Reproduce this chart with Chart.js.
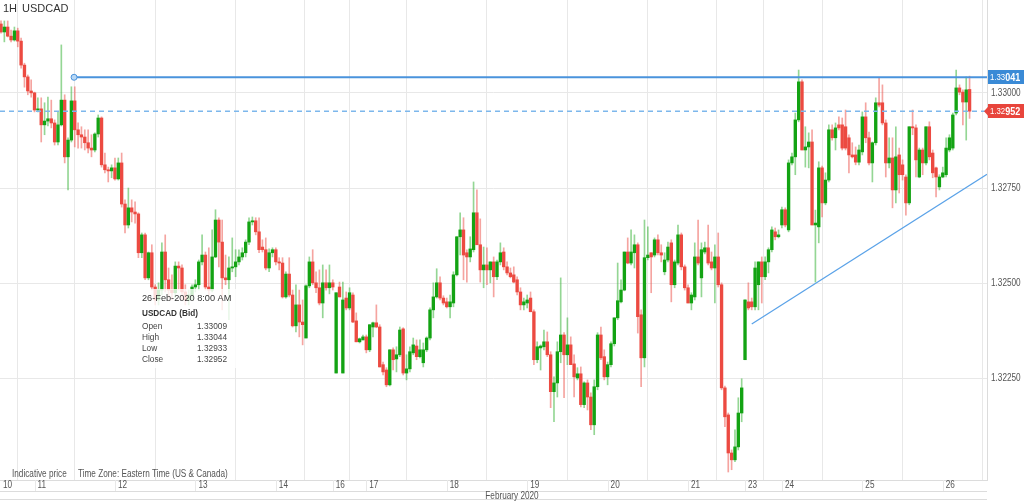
<!DOCTYPE html>
<html>
<head>
<meta charset="utf-8">
<title>USDCAD 1H</title>
<script src="https://cdn.jsdelivr.net/npm/chart.js@4.4.0/dist/chart.umd.min.js"></script>
<style>
  html, body { margin: 0; padding: 0; background: #fff; }
  #wrap { position: relative; width: 1024px; height: 501px; }
</style>
</head>
<body>
<div id="wrap"><canvas id="chart" width="1024" height="501"></canvas></div>
<script>
// ============================================================================
// Data - USDCAD (Bid), hourly candles, 10 Feb 2020 14:00 .. 26 Feb 2020 08:00 ET
// ============================================================================
const openPrices = [
  1.33181, 1.33160, 1.33173, 1.33149, 1.33139, 1.33163, 1.33136, 1.33073, 1.33042, 1.33005,
  1.33000, 1.32955, 1.32958, 1.32916, 1.32926, 1.32932, 1.32921, 1.32871, 1.32916, 1.32981,
  1.32832, 1.32876, 1.32979, 1.32903, 1.32890, 1.32884, 1.32869, 1.32855, 1.32850, 1.32892,
  1.32934, 1.32811, 1.32798, 1.32795, 1.32803, 1.32774, 1.32816, 1.32708, 1.32653, 1.32698,
  1.32687, 1.32682, 1.32580, 1.32627, 1.32514, 1.32580, 1.32490, 1.32456, 1.32482, 1.32582,
  1.32509, 1.32482, 1.32475, 1.32545, 1.32540, 1.32477, 1.32456, 1.32469, 1.32490, 1.32496,
  1.32556, 1.32574, 1.32490, 1.32482, 1.32569, 1.32666, 1.32608, 1.32514, 1.32509, 1.32540,
  1.32543, 1.32556, 1.32569, 1.32580, 1.32608, 1.32661, 1.32664, 1.32635, 1.32595, 1.32588,
  1.32540, 1.32580, 1.32588, 1.32556, 1.32553, 1.32464, 1.32524, 1.32469, 1.32388, 1.32443,
  1.32398, 1.32356, 1.32493, 1.32556, 1.32501, 1.32488, 1.32448, 1.32501, 1.32488, 1.32501,
  1.32264, 1.32490, 1.32264, 1.32461, 1.32435, 1.32469, 1.32401, 1.32346, 1.32351, 1.32359,
  1.32325, 1.32385, 1.32396, 1.32385, 1.32286, 1.32272, 1.32233, 1.32325, 1.32301, 1.32312,
  1.32380, 1.32264, 1.32275, 1.32317, 1.32335, 1.32307, 1.32291, 1.32325, 1.32356, 1.32430,
  1.32464, 1.32501, 1.32461, 1.32451, 1.32438, 1.32448, 1.32522, 1.32622, 1.32640, 1.32580,
  1.32569, 1.32588, 1.32685, 1.32601, 1.32535, 1.32548, 1.32535, 1.32556, 1.32517, 1.32556,
  1.32582, 1.32543, 1.32527, 1.32522, 1.32509, 1.32477, 1.32443, 1.32448, 1.32461, 1.32425,
  1.32299, 1.32330, 1.32333, 1.32346, 1.32312, 1.32215, 1.32238, 1.32320, 1.32364, 1.32312,
  1.32338, 1.32288, 1.32251, 1.32262, 1.32181, 1.32238, 1.32201, 1.32128, 1.32228, 1.32364,
  1.32307, 1.32254, 1.32286, 1.32341, 1.32409, 1.32451, 1.32482, 1.32582, 1.32553, 1.32580,
  1.32601, 1.32417, 1.32304, 1.32567, 1.32580, 1.32574, 1.32614, 1.32580, 1.32530, 1.32561,
  1.32606, 1.32496, 1.32553, 1.32627, 1.32543, 1.32488, 1.32448, 1.32464, 1.32569, 1.32514,
  1.32582, 1.32593, 1.32556, 1.32540, 1.32569, 1.32496, 1.32225, 1.32154, 1.32054, 1.32036,
  1.32070, 1.32159, 1.32299, 1.32451, 1.32451, 1.32438, 1.32496, 1.32556, 1.32517, 1.32556,
  1.32588, 1.32635, 1.32622, 1.32653, 1.32693, 1.32640, 1.32816, 1.32832, 1.32929, 1.33029,
  1.32850, 1.32858, 1.32871, 1.32653, 1.32648, 1.32803, 1.32711, 1.32771, 1.32903, 1.32882,
  1.32916, 1.32916, 1.32911, 1.32882, 1.32837, 1.32837, 1.32818, 1.32845, 1.32937, 1.32882,
  1.32816, 1.32869, 1.32974, 1.32974, 1.32921, 1.32816, 1.32829, 1.32745, 1.32837, 1.32811,
  1.32779, 1.32711, 1.32911, 1.32908, 1.32779, 1.32850, 1.32816, 1.32911, 1.32842, 1.32803,
  1.32753, 1.32779, 1.32785, 1.32850, 1.32855, 1.32947, 1.33013, 1.33002, 1.32976, 1.33009
];
const highPrices = [
  1.33189, 1.33189, 1.33189, 1.33165, 1.33173, 1.33170, 1.33144, 1.33078, 1.33047, 1.33034,
  1.33002, 1.32987, 1.32987, 1.32974, 1.32989, 1.32981, 1.32929, 1.32950, 1.33126, 1.32995,
  1.32882, 1.33016, 1.33016, 1.32921, 1.32911, 1.32903, 1.32903, 1.32890, 1.32895, 1.32942,
  1.32937, 1.32842, 1.32805, 1.32811, 1.32829, 1.32829, 1.32842, 1.32719, 1.32750, 1.32719,
  1.32714, 1.32685, 1.32632, 1.32632, 1.32582, 1.32601, 1.32496, 1.32501, 1.32606, 1.32627,
  1.32540, 1.32522, 1.32556, 1.32556, 1.32548, 1.32496, 1.32482, 1.32496, 1.32509, 1.32561,
  1.32627, 1.32582, 1.32593, 1.32640, 1.32693, 1.32672, 1.32666, 1.32574, 1.32569, 1.32619,
  1.32588, 1.32588, 1.32593, 1.32614, 1.32672, 1.32674, 1.32672, 1.32672, 1.32614, 1.32619,
  1.32590, 1.32593, 1.32593, 1.32567, 1.32567, 1.32530, 1.32567, 1.32482, 1.32496, 1.32482,
  1.32456, 1.32496, 1.32569, 1.32588, 1.32530, 1.32535, 1.32548, 1.32535, 1.32548, 1.32509,
  1.32475, 1.32503, 1.32503, 1.32477, 1.32488, 1.32475, 1.32422, 1.32356, 1.32364, 1.32364,
  1.32391, 1.32398, 1.32443, 1.32391, 1.32293, 1.32278, 1.32325, 1.32330, 1.32333, 1.32385,
  1.32383, 1.32312, 1.32333, 1.32356, 1.32351, 1.32351, 1.32343, 1.32359, 1.32435, 1.32501,
  1.32538, 1.32517, 1.32467, 1.32461, 1.32469, 1.32530, 1.32622, 1.32685, 1.32672, 1.32588,
  1.32622, 1.32766, 1.32745, 1.32669, 1.32595, 1.32593, 1.32556, 1.32569, 1.32561, 1.32606,
  1.32593, 1.32556, 1.32540, 1.32543, 1.32517, 1.32488, 1.32461, 1.32469, 1.32477, 1.32430,
  1.32346, 1.32338, 1.32377, 1.32372, 1.32320, 1.32254, 1.32346, 1.32514, 1.32370, 1.32409,
  1.32359, 1.32312, 1.32278, 1.32280, 1.32241, 1.32246, 1.32212, 1.32246, 1.32370, 1.32385,
  1.32325, 1.32293, 1.32346, 1.32409, 1.32553, 1.32509, 1.32582, 1.32619, 1.32640, 1.32627,
  1.32606, 1.32430, 1.32666, 1.32648, 1.32580, 1.32619, 1.32627, 1.32601, 1.32580, 1.32608,
  1.32614, 1.32561, 1.32653, 1.32632, 1.32548, 1.32496, 1.32475, 1.32606, 1.32666, 1.32606,
  1.32608, 1.32653, 1.32582, 1.32601, 1.32632, 1.32501, 1.32230, 1.32159, 1.32062, 1.32115,
  1.32199, 1.32249, 1.32456, 1.32501, 1.32461, 1.32556, 1.32556, 1.32569, 1.32569, 1.32593,
  1.32648, 1.32645, 1.32640, 1.32700, 1.32698, 1.32824, 1.32842, 1.32947, 1.33060, 1.33034,
  1.32911, 1.32895, 1.32903, 1.32692, 1.32819, 1.32808, 1.32790, 1.32916, 1.32916, 1.32921,
  1.32937, 1.32934, 1.32955, 1.32890, 1.32869, 1.32858, 1.32863, 1.32950, 1.32974, 1.32897,
  1.32871, 1.32987, 1.33039, 1.33021, 1.32929, 1.32882, 1.32882, 1.32911, 1.32855, 1.32824,
  1.32785, 1.32911, 1.32955, 1.32916, 1.32855, 1.32855, 1.32911, 1.32924, 1.32850, 1.32805,
  1.32785, 1.32805, 1.32882, 1.32890, 1.32947, 1.33060, 1.33021, 1.33008, 1.33042, 1.33044
];
const lowPrices = [
  1.33157, 1.33134, 1.33147, 1.33134, 1.33136, 1.33121, 1.33065, 1.33015, 1.32995, 1.32989,
  1.32950, 1.32950, 1.32871, 1.32890, 1.32913, 1.32908, 1.32863, 1.32863, 1.32913, 1.32816,
  1.32745, 1.32871, 1.32858, 1.32855, 1.32855, 1.32850, 1.32842, 1.32832, 1.32845, 1.32884,
  1.32805, 1.32790, 1.32766, 1.32777, 1.32771, 1.32771, 1.32700, 1.32632, 1.32645, 1.32661,
  1.32658, 1.32567, 1.32567, 1.32509, 1.32509, 1.32482, 1.32443, 1.32443, 1.32469, 1.32477,
  1.32461, 1.32456, 1.32461, 1.32482, 1.32456, 1.32443, 1.32443, 1.32456, 1.32477, 1.32482,
  1.32548, 1.32482, 1.32469, 1.32477, 1.32567, 1.32543, 1.32430, 1.32496, 1.32404, 1.32530,
  1.32517, 1.32548, 1.32561, 1.32569, 1.32601, 1.32653, 1.32627, 1.32580, 1.32582, 1.32535,
  1.32530, 1.32569, 1.32548, 1.32535, 1.32461, 1.32461, 1.32464, 1.32385, 1.32372, 1.32359,
  1.32338, 1.32356, 1.32488, 1.32496, 1.32475, 1.32443, 1.32409, 1.32482, 1.32472, 1.32482,
  1.32264, 1.32464, 1.32264, 1.32430, 1.32430, 1.32396, 1.32346, 1.32343, 1.32351, 1.32317,
  1.32320, 1.32359, 1.32383, 1.32280, 1.32259, 1.32228, 1.32230, 1.32272, 1.32267, 1.32307,
  1.32259, 1.32246, 1.32267, 1.32312, 1.32299, 1.32304, 1.32280, 1.32320, 1.32351, 1.32409,
  1.32461, 1.32456, 1.32443, 1.32435, 1.32409, 1.32438, 1.32519, 1.32574, 1.32509, 1.32503,
  1.32556, 1.32582, 1.32601, 1.32503, 1.32488, 1.32496, 1.32501, 1.32464, 1.32509, 1.32548,
  1.32535, 1.32522, 1.32514, 1.32501, 1.32469, 1.32430, 1.32430, 1.32435, 1.32425, 1.32286,
  1.32291, 1.32272, 1.32325, 1.32307, 1.32173, 1.32136, 1.32201, 1.32291, 1.32199, 1.32286,
  1.32286, 1.32201, 1.32246, 1.32175, 1.32173, 1.32167, 1.32115, 1.32102, 1.32220, 1.32299,
  1.32246, 1.32233, 1.32280, 1.32335, 1.32404, 1.32448, 1.32480, 1.32551, 1.32548, 1.32540,
  1.32369, 1.32228, 1.32280, 1.32561, 1.32475, 1.32569, 1.32574, 1.32556, 1.32522, 1.32556,
  1.32451, 1.32488, 1.32548, 1.32535, 1.32482, 1.32448, 1.32430, 1.32456, 1.32548, 1.32464,
  1.32577, 1.32548, 1.32535, 1.32448, 1.32490, 1.32220, 1.32123, 1.32004, 1.32010, 1.32031,
  1.32062, 1.32136, 1.32299, 1.32430, 1.32430, 1.32430, 1.32430, 1.32448, 1.32509, 1.32527,
  1.32582, 1.32614, 1.32619, 1.32645, 1.32648, 1.32635, 1.32811, 1.32785, 1.32924, 1.32850,
  1.32805, 1.32803, 1.32653, 1.32503, 1.32606, 1.32674, 1.32706, 1.32766, 1.32876, 1.32850,
  1.32903, 1.32850, 1.32850, 1.32790, 1.32829, 1.32811, 1.32811, 1.32837, 1.32869, 1.32811,
  1.32766, 1.32863, 1.32963, 1.32916, 1.32779, 1.32803, 1.32698, 1.32711, 1.32737, 1.32771,
  1.32679, 1.32706, 1.32890, 1.32779, 1.32777, 1.32785, 1.32811, 1.32824, 1.32777, 1.32727,
  1.32745, 1.32777, 1.32779, 1.32845, 1.32850, 1.32942, 1.32995, 1.32916, 1.32876, 1.32933
];
const closePrices = [
  1.33160, 1.33173, 1.33149, 1.33139, 1.33163, 1.33136, 1.33073, 1.33042, 1.33005, 1.33000,
  1.32955, 1.32958, 1.32916, 1.32926, 1.32932, 1.32921, 1.32871, 1.32916, 1.32981, 1.32832,
  1.32876, 1.32979, 1.32903, 1.32890, 1.32884, 1.32869, 1.32855, 1.32850, 1.32892, 1.32934,
  1.32811, 1.32798, 1.32795, 1.32803, 1.32774, 1.32816, 1.32708, 1.32653, 1.32698, 1.32687,
  1.32682, 1.32580, 1.32627, 1.32514, 1.32580, 1.32490, 1.32456, 1.32482, 1.32582, 1.32509,
  1.32482, 1.32475, 1.32545, 1.32540, 1.32477, 1.32456, 1.32469, 1.32490, 1.32496, 1.32556,
  1.32574, 1.32490, 1.32482, 1.32569, 1.32666, 1.32608, 1.32514, 1.32509, 1.32540, 1.32543,
  1.32556, 1.32569, 1.32580, 1.32608, 1.32661, 1.32664, 1.32635, 1.32588, 1.32588, 1.32540,
  1.32580, 1.32588, 1.32556, 1.32553, 1.32464, 1.32524, 1.32469, 1.32388, 1.32443, 1.32398,
  1.32391, 1.32493, 1.32556, 1.32501, 1.32488, 1.32448, 1.32501, 1.32488, 1.32501, 1.32490,
  1.32475, 1.32464, 1.32456, 1.32435, 1.32475, 1.32398, 1.32346, 1.32354, 1.32359, 1.32325,
  1.32391, 1.32396, 1.32385, 1.32280, 1.32267, 1.32233, 1.32325, 1.32299, 1.32312, 1.32377,
  1.32264, 1.32275, 1.32320, 1.32338, 1.32307, 1.32325, 1.32325, 1.32356, 1.32430, 1.32464,
  1.32501, 1.32461, 1.32448, 1.32438, 1.32451, 1.32522, 1.32622, 1.32640, 1.32574, 1.32569,
  1.32590, 1.32685, 1.32601, 1.32535, 1.32548, 1.32535, 1.32556, 1.32517, 1.32556, 1.32580,
  1.32543, 1.32527, 1.32517, 1.32503, 1.32477, 1.32443, 1.32451, 1.32456, 1.32425, 1.32299,
  1.32333, 1.32335, 1.32346, 1.32312, 1.32215, 1.32238, 1.32320, 1.32364, 1.32312, 1.32338,
  1.32286, 1.32254, 1.32262, 1.32181, 1.32238, 1.32201, 1.32128, 1.32228, 1.32364, 1.32304,
  1.32254, 1.32286, 1.32341, 1.32409, 1.32454, 1.32482, 1.32582, 1.32553, 1.32582, 1.32601,
  1.32412, 1.32304, 1.32567, 1.32574, 1.32569, 1.32614, 1.32580, 1.32574, 1.32561, 1.32595,
  1.32496, 1.32556, 1.32627, 1.32543, 1.32488, 1.32448, 1.32469, 1.32569, 1.32553, 1.32588,
  1.32593, 1.32553, 1.32540, 1.32569, 1.32496, 1.32225, 1.32149, 1.32054, 1.32036, 1.32070,
  1.32159, 1.32225, 1.32456, 1.32435, 1.32438, 1.32540, 1.32556, 1.32517, 1.32556, 1.32588,
  1.32640, 1.32622, 1.32627, 1.32693, 1.32653, 1.32816, 1.32832, 1.32929, 1.33029, 1.32850,
  1.32858, 1.32871, 1.32653, 1.32658, 1.32803, 1.32711, 1.32771, 1.32903, 1.32882, 1.32908,
  1.32908, 1.32855, 1.32855, 1.32837, 1.32832, 1.32818, 1.32850, 1.32937, 1.32882, 1.32816,
  1.32869, 1.32974, 1.32968, 1.32921, 1.32816, 1.32829, 1.32745, 1.32832, 1.32785, 1.32785,
  1.32711, 1.32911, 1.32908, 1.32824, 1.32850, 1.32816, 1.32911, 1.32832, 1.32790, 1.32779,
  1.32779, 1.32790, 1.32855, 1.32882, 1.32942, 1.33013, 1.33002, 1.32976, 1.33008, 1.32952
];

// day labels and the candle index where each trading day starts
const dayLabels     = ['10', '11', '12', '13', '14', '16', '17', '18', '19', '20', '21', '23', '24', '25', '26'];
const dayStartIndex = [-14, 10, 34, 58, 82, 99, 109, 133, 157, 181, 205, 222, 233, 257, 281];
const monthLabel = 'February 2020';

const priceTicks = [1.3225, 1.325, 1.3275, 1.33];

// drawings on the chart
const resistanceLevel = 1.33041;
const resistanceFromIndex = 21.8;
const lastPrice = 1.32952;
const trendLine = [{ x: 224, y: 1.32393 }, { x: 294.2, y: 1.32786 }];

// hovered candle read-out
const infoDate = '26-Feb-2020 8:00 AM';
const infoSymbol = 'USDCAD (Bid)';
const infoRows = [['Open', '1.33009'], ['High', '1.33044'], ['Low', '1.32933'], ['Close', '1.32952']];

// ============================================================================
// Chart setup
// ============================================================================
const X_MIN = -0.3, X_MAX = 294.2;
const Y_MIN = 1.31983, Y_MAX = 1.33244;

const SANS = "'Liberation Sans', Arial, sans-serif";
const NARROW_SCALE = 0.82;   // squeeze Liberation Sans to look like Arial Narrow

const UP = '#13a313', DOWN = '#ec4a41';
const UP_WICK = 'rgba(60, 180, 60, 0.55)', DOWN_WICK = 'rgba(236, 74, 65, 0.5)';
const GRID = '#e8e8e8';
const AXIS_TEXT = '#555';

const bodyData = closePrices.map((c, i) => ({ x: i, y: [openPrices[i], c] }));
const wickData = closePrices.map((c, i) => ({ x: i, y: [lowPrices[i], highPrices[i]] }));
const bodyColors = closePrices.map((c, i) => c >= openPrices[i] ? UP : DOWN);
const wickColors = closePrices.map((c, i) => c >= openPrices[i] ? UP_WICK : DOWN_WICK);

// draws condensed text, returns its drawn width
function narrowText(ctx, text, x, y, font, align) {
    ctx.save();
    ctx.font = font;
    ctx.textAlign = align || 'left';
    ctx.textBaseline = 'middle';
    ctx.translate(x, y);
    ctx.scale(NARROW_SCALE, 1);
    ctx.fillText(text, 0, 0);
    const w = ctx.measureText(text).width * NARROW_SCALE;
    ctx.restore();
    return w;
}

function priceTag(ctx, y, text, bg, arrow) {
    ctx.save();
    ctx.fillStyle = bg;
    ctx.fillRect(988, Math.round(y) - 7, 36, 14);
    if (arrow) {
        ctx.beginPath();
        ctx.moveTo(984, y);
        ctx.lineTo(988.5, y - 5);
        ctx.lineTo(988.5, y + 5);
        ctx.closePath();
        ctx.fill();
    }
    ctx.fillStyle = '#fff';
    const w = narrowText(ctx, text.slice(0, 4), 990, y + 0.5, '9.5px ' + SANS);
    narrowText(ctx, text.slice(4), 990 + w, y + 0.5, 'bold 11px ' + SANS);
    ctx.restore();
}

const overlayPlugin = {
    id: 'overlay',
    beforeDraw(chart) {
        const ctx = chart.ctx;
        ctx.save();
        ctx.fillStyle = '#fff';
        ctx.fillRect(0, 0, chart.width, chart.height);
        ctx.restore();
    },
    afterDraw(chart) {
        const { ctx, chartArea } = chart;
        const xs = chart.scales.x, ys = chart.scales.y;
        ctx.save();

        // lower axis band: grid stubs through the day row, separators
        ctx.strokeStyle = GRID;
        ctx.lineWidth = 1;
        dayStartIndex.forEach(v => {
            if (v < X_MIN) return;
            const px = Math.round(xs.getPixelForValue(v)) + 0.5;
            ctx.beginPath();
            ctx.moveTo(px, chartArea.bottom);
            ctx.lineTo(px, chartArea.bottom + 11);
            ctx.stroke();
        });
        ctx.strokeStyle = '#dcdcdc';
        [chartArea.bottom + 11.5, chart.height - 1.5].forEach(y => {
            ctx.beginPath();
            ctx.moveTo(0, y);
            ctx.lineTo(chartArea.right, y);
            ctx.stroke();
        });

        // day labels and month
        ctx.fillStyle = AXIS_TEXT;
        const axisFont = '10px ' + SANS;
        dayStartIndex.forEach((v, i) => {
            const px = xs.getPixelForValue(Math.max(v, X_MIN));
            narrowText(ctx, dayLabels[i], px + 3, chartArea.bottom + 5.5, axisFont);
        });
        narrowText(ctx, monthLabel, chart.width / 2, chartArea.bottom + 16, axisFont, 'center');

        // price axis labels
        priceTicks.forEach(v => {
            narrowText(ctx, v.toFixed(5), chartArea.right + 4, ys.getPixelForValue(v), axisFont);
        });

        narrowText(ctx, 'Indicative price', 12, 474, axisFont);
        narrowText(ctx, 'Time Zone: Eastern Time (US & Canada)', 78, 474, axisFont);

        // symbol / interval
        ctx.fillStyle = '#333';
        ctx.textBaseline = 'middle';
        ctx.textAlign = 'left';
        ctx.font = '11px ' + SANS;
        ctx.fillText('1H', 3, 9);
        ctx.fillText('USDCAD', 22, 9);

        // info box for the hovered candle
        ctx.fillStyle = 'rgba(255,255,255,0.8)';
        ctx.fillRect(139, 289, 97, 79);
        ctx.fillStyle = '#333';
        ctx.font = '9.2px ' + SANS;
        ctx.fillText(infoDate, 142, 298);
        ctx.font = 'bold 8.2px ' + SANS;
        ctx.fillText(infoSymbol, 142, 314);
        ctx.font = '8.3px ' + SANS;
        ctx.fillStyle = '#444';
        infoRows.forEach((r, i) => {
            const y = 327 + i * 11;
            ctx.fillText(r[0], 142, y);
            ctx.fillText(r[1], 197, y);
        });
        ctx.restore();

        // price tags on the right axis
        priceTag(ctx, ys.getPixelForValue(resistanceLevel), resistanceLevel.toFixed(5), '#3a8ad6', false);
        priceTag(ctx, ys.getPixelForValue(lastPrice), lastPrice.toFixed(5), '#e8453c', true);
    }
};

new Chart(document.getElementById('chart').getContext('2d'), {
    type: 'bar',
    data: {
        datasets: [
            {
                type: 'line',
                label: 'Resistance',
                data: [{ x: resistanceFromIndex, y: resistanceLevel }, { x: X_MAX, y: resistanceLevel }],
                borderColor: '#4a93dc',
                borderWidth: 2,
                pointRadius: [3, 0],
                pointBackgroundColor: '#b8d7f4',
                pointBorderColor: '#4a93dc',
                pointBorderWidth: 1,
                order: -3
            },
            {
                type: 'line',
                label: 'Last price',
                data: [{ x: X_MIN, y: lastPrice }, { x: X_MAX, y: lastPrice }],
                borderColor: '#7db7ec',
                borderWidth: 1.5,
                borderDash: [5, 4],
                pointRadius: 0,
                order: -2
            },
            {
                type: 'line',
                label: 'Trend',
                data: trendLine,
                borderColor: '#5aa2e8',
                borderWidth: 1.2,
                pointRadius: 0,
                order: -1
            },
            {
                label: 'Body',
                data: bodyData,
                backgroundColor: bodyColors,
                barThickness: 2.7,
                minBarLength: 1,
                grouped: false,
                order: 0
            },
            {
                label: 'Wick',
                data: wickData,
                backgroundColor: wickColors,
                barThickness: 1,
                grouped: false,
                order: 1
            }
        ]
    },
    options: {
        responsive: false,
        animation: false,
        devicePixelRatio: 1,
        events: [],
        layout: { padding: 0, autoPadding: false },
        plugins: {
            legend: { display: false },
            tooltip: { enabled: false }
        },
        scales: {
            x: {
                type: 'linear',
                min: X_MIN,
                max: X_MAX,
                offset: false,
                grid: {
                    color: ctx => ctx.index === 0 ? 'rgba(0,0,0,0)' : GRID,
                    drawTicks: false
                },
                border: { color: '#dcdcdc' },
                afterBuildTicks: s => {
                    s.ticks = dayStartIndex.map(v => ({ value: Math.max(v, X_MIN) }));
                },
                afterFit: s => { s.height = 21; s.paddingLeft = 0; s.paddingRight = 0; },
                ticks: { display: false }
            },
            y: {
                type: 'linear',
                position: 'right',
                min: Y_MIN,
                max: Y_MAX,
                grid: { color: GRID, drawTicks: false },
                border: { color: '#dcdcdc' },
                afterBuildTicks: s => { s.ticks = priceTicks.map(v => ({ value: v })); },
                afterFit: s => { s.width = 37; s.paddingTop = 0; s.paddingBottom = 0; },
                ticks: { display: false }
            }
        }
    },
    plugins: [overlayPlugin]
});
</script>
</body>
</html>
